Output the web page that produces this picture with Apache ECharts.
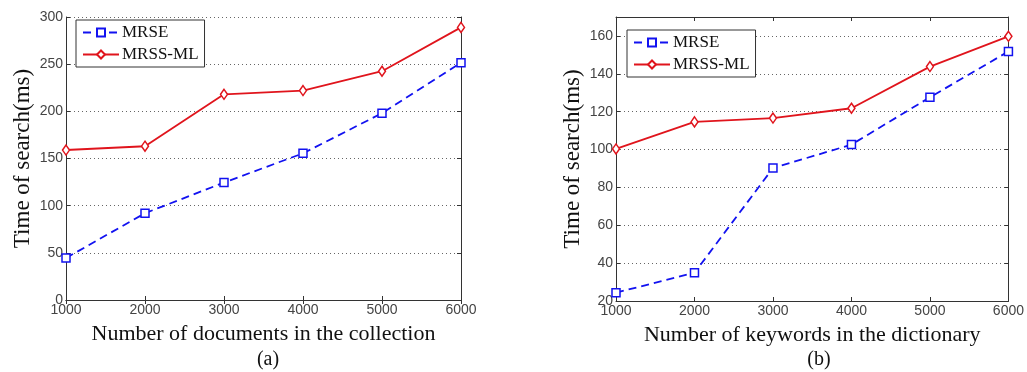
<!DOCTYPE html>
<html><head><meta charset="utf-8">
<script src="https://cdn.jsdelivr.net/npm/echarts@6/dist/echarts.min.js"></script>
<style>html,body{margin:0;padding:0;background:#fff}#c{width:1027px;height:372px}</style>
</head><body><div id="c"></div>
<script>
const xCategories = [1000, 2000, 3000, 4000, 5000, 6000];
const mrseA = [44.5, 92, 124.5, 155.5, 198, 251.5];
const mrssA = [159, 163, 218, 222, 242.5, 289];
const mrseB = [24.4, 34.9, 90.2, 102.6, 127.6, 151.8];
const mrssB = [100.3, 114.6, 116.6, 121.8, 143.8, 159.8];
const yTicksA = [0, 50, 100, 150, 200, 250, 300];
const yTicksB = [20, 40, 60, 80, 100, 120, 140, 160];

const serif = '"Liberation Serif","Times New Roman",serif';
const sans = '"Liberation Sans",Arial,sans-serif';
const BLUE = '#1212f0', RED = '#e0141c';
const chart = echarts.init(document.getElementById('c'), null, {renderer:'canvas'});

function pairs(ys){ return xCategories.map((x,i)=>[x, ys[i]]); }

function xAxes(gi, name){
  return [{
    gridIndex: gi, type:'value', min:1000, max:6000, interval:1000, position:'bottom',
    name: name, nameLocation:'middle', nameGap: 23,
    nameTextStyle:{fontFamily:serif, fontSize:22, color:'#111'},
    axisLine:{lineStyle:{color:'#333', width:1}},
    axisTick:{inside:true, length:4, lineStyle:{color:'#333'}},
    axisLabel:{fontFamily:sans, fontSize:14, color:'#444', margin:3, formatter: v => String(v)},
    splitLine:{show:false}
  },{
    gridIndex: gi, type:'value', min:1000, max:6000, interval:1000, position:'top',
    axisLine:{lineStyle:{color:'#333', width:1}},
    axisTick:{inside:true, length:4, lineStyle:{color:'#333'}},
    axisLabel:{show:false}, splitLine:{show:false}
  }];
}
function yAxes(gi, min, max, interval, ticks){
  return [{
    gridIndex: gi, type:'value', min:min, max:max, interval:interval, position:'left',
    name:'Time of search(ms)', nameLocation:'middle', nameGap: 32,
    nameTextStyle:{fontFamily:serif, fontSize:23, color:'#111'},
    axisLine:{show:true, lineStyle:{color:'#333', width:1}},
    axisTick:{inside:true, length:4, lineStyle:{color:'#333'}},
    axisLabel:{fontFamily:sans, fontSize:14, color:'#444', margin:3,
      formatter: v => ticks.indexOf(v) >= 0 ? String(v) : ''},
    splitLine:{show:true, lineStyle:{type:[1,3], color:'#666', width:1}}
  },{
    gridIndex: gi, type:'value', min:min, max:max, interval:interval, position:'right',
    axisLine:{show:true, lineStyle:{color:'#333', width:1}},
    axisTick:{inside:true, length:4, lineStyle:{color:'#333'}},
    axisLabel:{show:false}, splitLine:{show:false}
  }];
}
function series(gi, mrse, mrss){
  return [{
    name:'MRSE', type:'line', xAxisIndex: gi*2, yAxisIndex: gi*2, data: pairs(mrse),
    symbol:'rect', symbolSize:8, showAllSymbol:true,
    itemStyle:{color:'#fff', borderColor:BLUE, borderWidth:1.5},
    lineStyle:{color:BLUE, width:1.8, type:[8,5]}, z:2
  },{
    name:'MRSS-ML', type:'line', xAxisIndex: gi*2, yAxisIndex: gi*2, data: pairs(mrss),
    symbol:'diamond', symbolSize:[7,10], showAllSymbol:true,
    itemStyle:{color:'#fff', borderColor:RED, borderWidth:1.5},
    lineStyle:{color:RED, width:1.8, type:'solid'}, z:3
  }];
}
function legend(left, top){
  return {
    left:left, top:top, orient:'vertical', itemGap:5, itemWidth:36, itemHeight:10,
    padding:[4,6,4,6], borderColor:'#333', borderWidth:1, backgroundColor:'#fff',
    textStyle:{fontFamily:serif, fontSize:17, color:'#111', padding:[0,0,0,-2]},
    data:['MRSE','MRSS-ML']
  };
}

const option = {
  animation:false,
  backgroundColor:'#fff',
  grid:[
    {left:66, top:17, width:395, height:283},
    {left:616, top:17, width:397, height:284}
  ],
  title:[
    {text:'(a)', left:263, top:345, textAlign:'center', textStyle:{fontFamily:serif, fontSize:20, fontWeight:'normal', color:'#111'}},
    {text:'(b)', left:814, top:345, textAlign:'center', textStyle:{fontFamily:serif, fontSize:20, fontWeight:'normal', color:'#111'}}
  ],
  legend:[legend(76, 20), legend(627, 30)],
  xAxis:[...xAxes(0,'Number of documents in the collection'), ...xAxes(1,'Number of keywords in the dictionary')],
  yAxis:[...yAxes(0,0,300,50,yTicksA), ...yAxes(1,20,170,20,yTicksB)],
  series:[...series(0, mrseA, mrssA), ...series(1, mrseB, mrssB)]
};
chart.setOption(option);
</script></body></html>
